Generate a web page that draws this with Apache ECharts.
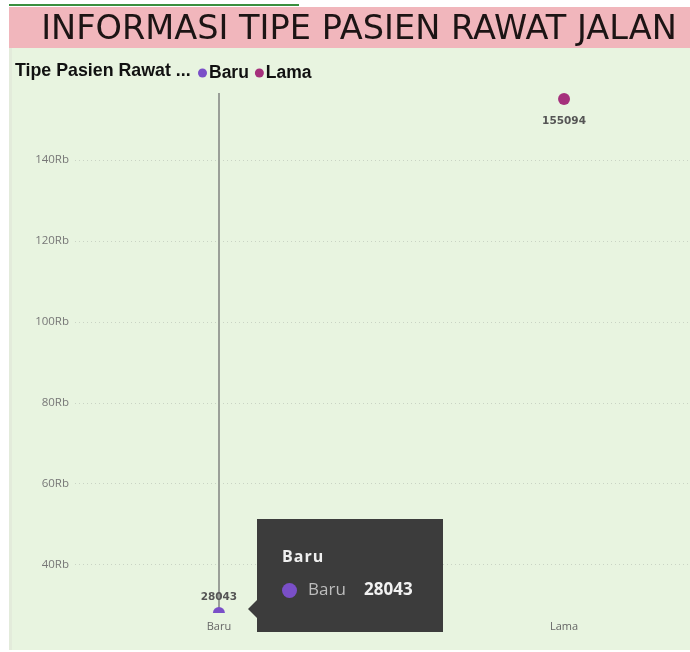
<!DOCTYPE html>
<html>
<head>
<meta charset="utf-8">
<script src="https://cdn.jsdelivr.net/npm/echarts@6/dist/echarts.min.js"></script>
<style>
html,body{margin:0;padding:0;background:#fff;}
#c{width:690px;height:652px;}
</style>
</head>
<body>
<div id="c"></div>
<script>
// ---- data ----
var titleText = 'INFORMASI TIPE PASIEN RAWAT JALAN';
var legendTitle = 'Tipe Pasien Rawat ...';
var categories = ['Baru', 'Lama'];
var values = [28043, 155094];
var seriesColors = ['#7a4fc8', '#a5307c'];
var yTicks = [40000, 60000, 80000, 100000, 120000, 140000];
var yMin = 28043;
var yMax = 156550;

var chart = echarts.init(document.getElementById('c'), null, {renderer: 'canvas'});

var halfCircle = 'path://M0,10 A10,10 0 0 1 20,10 Z';

var series = categories.map(function (name, i) {
  var s = {
    name: name,
    type: 'scatter',
    data: [[i, values[i]]],
    symbol: i === 0 ? halfCircle : 'circle',
    symbolSize: i === 0 ? [12, 6] : 12,
    symbolOffset: i === 0 ? [0, -3] : [0, 0],
    itemStyle: {color: seriesColors[i], opacity: 1},
    label: {
      show: true,
      position: i === 0 ? 'top' : 'bottom',
      distance: i === 0 ? 4 : 11,
      formatter: function (p) { return String(p.value[1]); },
      fontFamily: 'DejaVu Sans',
      fontWeight: 'bold',
      fontSize: 10.5,
      color: '#555'
    },
    clip: false,
    z: 5
  };
  if (i === 0) {
    s.markLine = {
      silent: true,
      symbol: ['none', 'none'],
      label: {show: false},
      lineStyle: {color: '#9a9f98', width: 2, type: 'solid'},
      data: [{xAxis: 0}],
      z: 1
    };
  }
  return s;
});

var option = {
  animation: false,
  backgroundColor: '#ffffff',
  graphic: [
    {type: 'rect', shape: {x: 9, y: 48, width: 681, height: 602}, style: {fill: '#e8f4e0'}, z: -10},
    {type: 'rect', shape: {x: 9, y: 48, width: 3, height: 602}, style: {fill: '#e3ebdb'}, z: -9},
    {type: 'rect', shape: {x: 9, y: 7, width: 681, height: 41}, style: {fill: '#f1b6bc'}, z: -10},
    {type: 'rect', shape: {x: 9, y: 4, width: 290, height: 2}, style: {fill: '#3a8f3f'}, z: -10},
    {type: 'text', x: 359, y: 30, style: {
      text: titleText, fill: '#1c1414', fontFamily: 'DejaVu Sans', fontWeight: 'normal', fontSize: 33.6,
      align: 'center', verticalAlign: 'middle'}},
    {type: 'text', x: 15, y: 71, style: {
      text: legendTitle, fill: '#111', fontFamily: 'Liberation Sans', fontWeight: 'bold', fontSize: 17.8,
      align: 'left', verticalAlign: 'middle'}}
  ],
  legend: {
    left: 193, top: 59,
    icon: 'circle',
    itemWidth: 9, itemHeight: 9, itemGap: 6,
    data: categories.map(function (c) { return {name: c, icon: 'circle'}; }),
    textStyle: {fontFamily: 'Liberation Sans', fontWeight: 'bold', fontSize: 17.5, color: '#111', padding: [0, 0, 0, -3]}
  },
  grid: {left: 75, right: 0, top: 93, bottom: 39, containLabel: false},
  xAxis: {
    type: 'value',
    min: -0.417, max: 1.365,
    axisLine: {show: false},
    axisTick: {show: false},
    splitLine: {show: false},
    axisLabel: {
      customValues: [0, 1],
      formatter: function (v) { return categories[Math.round(v)]; },
      fontFamily: 'Open Sans', fontSize: 11, color: '#666', margin: 8
    }
  },
  yAxis: {
    type: 'value',
    min: yMin, max: yMax,
    axisLine: {show: false},
    axisTick: {show: false, customValues: yTicks},
    splitLine: {show: true, lineStyle: {color: '#c9d3c4', type: [1, 3], width: 1}},
    axisLabel: {
      customValues: yTicks,
      formatter: function (v) { return (v / 1000) + 'Rb'; },
      fontFamily: 'Open Sans', fontSize: 11.5, color: '#777', margin: 6
    }
  },
  tooltip: {
    trigger: 'item',
    alwaysShowContent: true,
    transitionDuration: 0,
    backgroundColor: '#3c3c3c',
    borderWidth: 0,
    padding: 0,
    extraCssText: 'border-radius:0;box-shadow:none;',
    position: function (point, params, dom, rect, size) {
      var px = chart.convertToPixel({gridIndex: 0}, params.value);
      return [px[0] + 38, px[1] - 94];
    },
    formatter: function (p) {
      var name = categories[p.value[0]];
      return '<div style="position:relative;width:186px;height:113px;font-family:\'Open Sans\',sans-serif;">' +
        '<div style="position:absolute;left:-9px;top:81px;width:0;height:0;border-top:9px solid transparent;border-bottom:9px solid transparent;border-right:9px solid #3c3c3c;"></div>' +
        '<div style="position:absolute;left:25px;top:27px;font-size:16px;font-weight:bold;letter-spacing:1px;color:#f0f0f0;">' + name + '</div>' +
        '<div style="position:absolute;left:25px;top:64px;width:15px;height:15px;border-radius:50%;background:' + p.color + ';"></div>' +
        '<div style="position:absolute;left:51px;top:59px;font-size:17px;color:#bdbdbd;">' + name + '</div>' +
        '<div style="position:absolute;left:107px;top:59px;font-size:17px;font-weight:bold;color:#f2f2f2;">' + p.value[1] + '</div>' +
        '</div>';
    }
  },
  series: series
};

chart.setOption(option);
chart.dispatchAction({type: 'showTip', seriesIndex: 0, dataIndex: 0});
</script>
</body>
</html>
